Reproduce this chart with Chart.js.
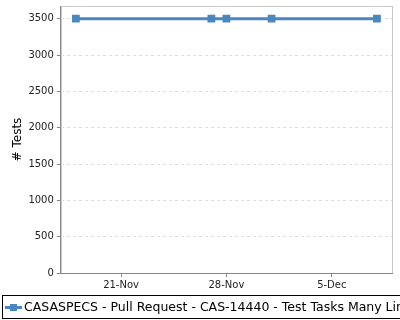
<!DOCTYPE html>
<html>
<head>
<meta charset="utf-8">
<script src="https://cdn.jsdelivr.net/npm/chart.js@4/dist/chart.umd.min.js"></script>
<style>
  html, body { margin: 0; padding: 0; background: #fff; }
  #wrap { position: relative; width: 400px; height: 320px; overflow: hidden; }
  #legend {
    position: absolute; left: 2px; top: 295px; width: 420px; height: 24px;
    border: 1px solid #000; box-sizing: border-box;
    font: 12.5px 'DejaVu Sans', sans-serif; color: #000; white-space: nowrap;
    line-height: 22px;
  }
  #legend .sym { position: absolute; left: 2px; top: 10px; width: 17px; height: 3px; background: #4a87c1; }
  #legend .sym i { position: absolute; left: 5px; top: -2px; width: 7px; height: 7px; background: #4a87c1; }
  #legend .txt { position: absolute; left: 21px; top: 0; }
</style>
</head>
<body>
<div id="wrap">
  <canvas id="chart" width="400" height="320"></canvas>
  <div id="legend"><span class="sym"><i></i></span><span class="txt" id="legendText"></span></div>
</div>
<script>
const seriesName = 'CASASPECS - Pull Request - CAS-14440 - Test Tasks Many Lines';
const runDates = ['2016-11-18', '2016-11-27', '2016-11-28', '2016-12-01', '2016-12-08'];
const testCounts = [3500, 3500, 3500, 3500, 3500];
const tickDates = ['2016-11-21', '2016-11-28', '2016-12-05'];
const yTicks = [0, 500, 1000, 1500, 2000, 2500, 3000, 3500];
const months = ['Jan', 'Feb', 'Mar', 'Apr', 'May', 'Jun', 'Jul', 'Aug', 'Sep', 'Oct', 'Nov', 'Dec'];

const DAY = 86400000;
function toDay(s) {
  let p = s.split('-');
  return Date.UTC(+p[0], +p[1] - 1, +p[2]) / DAY;
}
function dayLabel(d) {
  let dt = new Date(d * DAY);
  return dt.getUTCDate() + '-' + months[dt.getUTCMonth()];
}

document.getElementById('legendText').textContent = seriesName;

let points = runDates.map((d, i) => ({ x: toDay(d), y: testCounts[i] }));
const lineColor = '#4a87c1';

// light frame on top/right of the plot, like the original renderer
const framePlugin = {
  id: 'frame',
  beforeDraw(chart) {
    let a = chart.chartArea, ctx = chart.ctx;
    ctx.save();
    ctx.strokeStyle = '#c8c8c8';
    ctx.lineWidth = 1;
    ctx.strokeRect(Math.round(a.left) + 0.5, Math.round(a.top) + 0.5,
      Math.round(a.right - a.left), Math.round(a.bottom - a.top));
    ctx.restore();
  }
};

new Chart(document.getElementById('chart'), {
  type: 'line',
  data: {
    datasets: [{
      label: seriesName,
      data: points,
      borderColor: lineColor,
      backgroundColor: lineColor,
      borderWidth: 3,
      pointStyle: 'rect',
      pointRadius: 5.5,
      pointBorderWidth: 0,
      tension: 0
    }]
  },
  options: {
    responsive: false,
    animation: false,
    layout: { padding: { top: 6, right: 8, bottom: 27, left: 2 } },
    plugins: { legend: { display: false }, tooltip: { enabled: false } },
    scales: {
      x: {
        type: 'linear',
        min: toDay('2016-11-17'),
        max: toDay('2016-12-09'),
        afterBuildTicks(scale) { scale.ticks = tickDates.map(d => ({ value: toDay(d) })); },
        ticks: {
          callback: v => dayLabel(v),
          font: { family: 'DejaVu Sans', size: 10 },
          color: '#222',
          maxRotation: 0,
          padding: 2
        },
        grid: { drawOnChartArea: false, tickLength: 4, color: '#888' },
        border: { color: '#888' }
      },
      y: {
        min: 0,
        max: 3675,
        afterBuildTicks(scale) { scale.ticks = yTicks.map(v => ({ value: v })); },
        // top label sits below the max, so no overhang room is needed
        afterFit(scale) { scale.paddingTop = 0; },
        ticks: {
          callback: v => String(v),
          font: { family: 'DejaVu Sans', size: 10 },
          color: '#222',
          padding: 3
        },
        grid: {
          color: '#dedede',
          tickLength: 4,
          tickColor: '#888'
        },
        border: { color: '#888', dash: [3, 3] },
        title: {
          display: true,
          text: '# Tests',
          font: { family: 'DejaVu Sans', size: 12 },
          color: '#000',
          padding: { top: 9, bottom: 0 }
        }
      }
    }
  },
  plugins: [framePlugin]
});
</script>
</body>
</html>
